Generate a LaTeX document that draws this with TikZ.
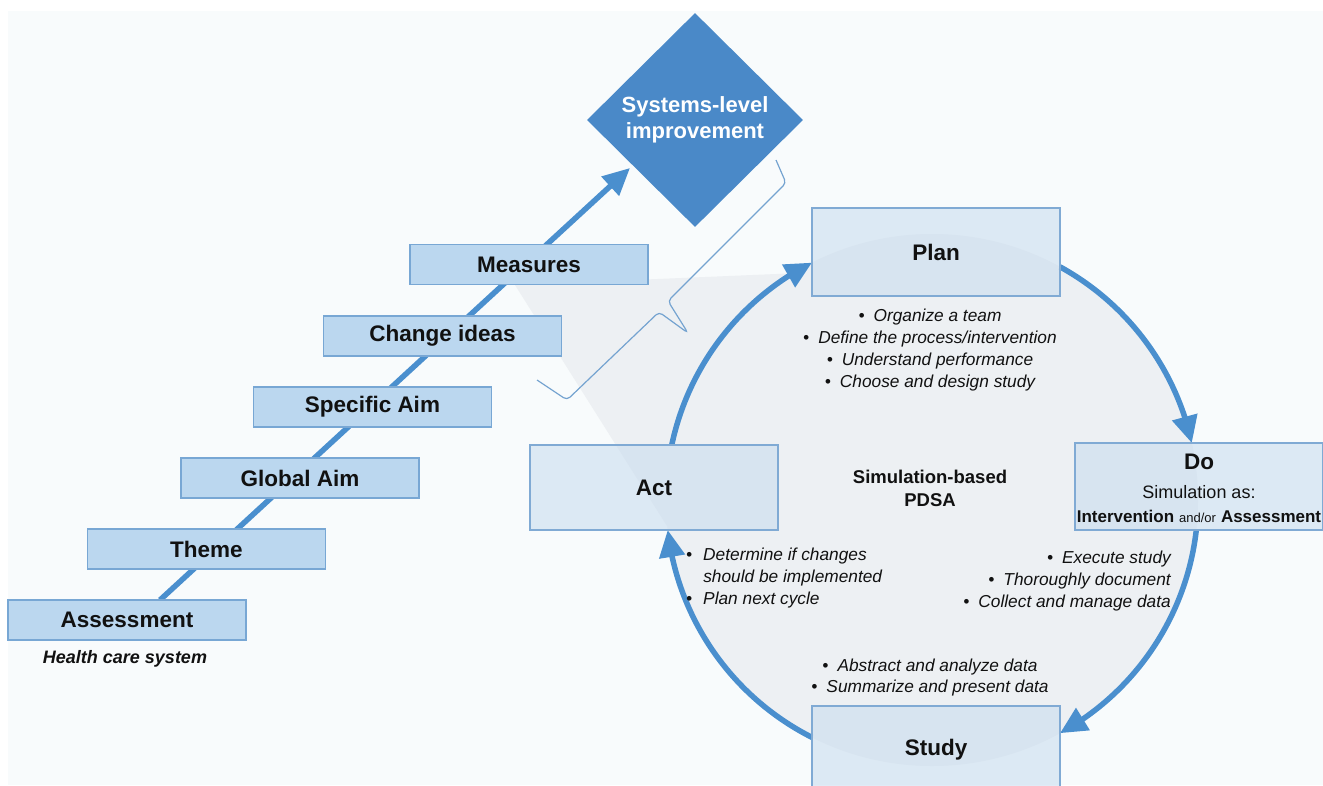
\documentclass[tikz,border=0pt]{standalone}
\usepackage{fontspec}
\setmainfont{Liberation Sans}
\usetikzlibrary{arrows.meta,bending,shapes.geometric}

\definecolor{panel}{HTML}{F8FBFC}
\definecolor{cyclefill}{HTML}{EDF0F3}
\definecolor{stepfill}{HTML}{BBD7EF}
\definecolor{stepline}{HTML}{78A7D4}
\definecolor{boxfill}{HTML}{C6DBEE}
\definecolor{boxline}{HTML}{80AAD4}
\definecolor{flowblue}{HTML}{4A8FCE}
\definecolor{diamondblue}{HTML}{4A89C8}
\definecolor{bracketblue}{HTML}{74A3D0}
\definecolor{ink}{HTML}{111111}

\tikzset{
  flow/.style={draw=flowblue, line width=5.5pt, -{Triangle[length=27pt,width=25pt,flex]}},
  stepbox/.style={draw=stepline, fill=stepfill, line width=1.1pt,
    minimum width=238pt, minimum height=40pt, inner sep=0pt, text=ink,
    font=\bfseries\fontsize{22.5}{26}\selectfont},
  pdsabox/.style={draw=boxline, fill=boxfill, fill opacity=0.55, text opacity=1,
    line width=1.1pt, minimum width=248pt, minimum height=87pt, inner sep=0pt,
    text=ink, font=\bfseries\fontsize{22.5}{26}\selectfont},
  notes/.style={text=ink, inner sep=0pt, font=\itshape\fontsize{17.3}{21.8}\selectfont},
  plain/.style={text=ink, inner sep=0pt},
}

\begin{document}
\begin{tikzpicture}[x=1pt,y=-1pt]
\useasboundingbox (0,0) rectangle (1323,785);
\clip (0,0) rectangle (1323,785);
\fill[white] (0,0) rectangle (1323,785);
\fill[panel] (8,11) rectangle (1323,785);

% PDSA cycle backdrop and the wedge leading into it
\coordinate (cyc) at (932,500);
\fill[cyclefill] (515,285) -- (800,273) -- (cyc) -- (667,526) -- cycle;
\fill[cyclefill] (cyc) circle[radius=266];

% rising line behind the steps
\coordinate (rise0) at (160,600);
\coordinate (rise1) at (630,168);
\draw[flow] (rise0) -- (rise1);

% steps
\node[stepbox] (assess)   at (127,620)   {Assessment};
\node[stepbox] (theme)    at (206.5,549) {Theme};
\node[stepbox] (global)   at (300,478)   {Global Aim};
\node[stepbox] (specific) at (372.5,407) {Specific Aim};
\node[stepbox] (change)   at (442.5,336) {Change ideas};
\node[stepbox] (measures) at (529,264.5) {Measures};
\node[plain, font=\bfseries\itshape\fontsize{18}{20}\selectfont] (hcs) at (125,659) {Health care system};

% goal
\node[diamond, fill=diamondblue, minimum width=216pt, minimum height=214pt, inner sep=0pt,
      text=white, align=center, font=\bfseries\fontsize{22}{26}\selectfont]
      (sys) at (695,120) {Systems-level\\improvement};

% brace from the goal down towards the cycle
\draw[bracketblue, line width=1.2pt, rounded corners=4pt]
  (776,160) -- (786,183) -- (668,301) -- (688,333) -- (659,312) -- (567,400) -- (537,380);

% points where the cycle meets the boxes
\path (cyc) ++(191.93:266) coordinate (actTop);
\path (cyc) ++(243.18:266) coordinate (planL);
\path (cyc) ++(298.76:266) coordinate (planR);
\path (cyc) ++(347.63:266) coordinate (doTop);
\path (cyc) ++(6.48:266)   coordinate (doBot);
\path (cyc) ++(61.24:266)  coordinate (studyR);
\path (cyc) ++(116.82:266) coordinate (studyL);
\path (cyc) ++(173.52:266) coordinate (actBot);

\draw[flow] (actTop) arc[start angle=191.93, end angle=243.18, radius=266];
\draw[flow] (planR)  arc[start angle=298.76, end angle=347.63, radius=266];
\draw[flow] (doBot)  arc[start angle=6.48,   end angle=61.24,  radius=266];
\draw[flow] (studyL) arc[start angle=116.82, end angle=173.52, radius=266];

% PDSA boxes
\node[pdsabox, minimum height=88pt] (plan)  at (936,252)   {Plan};
\node[pdsabox, minimum height=85pt] (act)   at (654,487.5) {Act};
\node[pdsabox] (do)    at (1199,486.5) {};
\node[pdsabox, minimum height=88pt] (study) at (936,750)   {Study};

\node[plain, font=\bfseries\fontsize{22.5}{26}\selectfont] (dotitle) at (1199,462) {Do};
\node[plain, align=center, font=\fontsize{18}{24}\selectfont] (dotext) at (1199,504)
  {Simulation as:\\\textbf{\fontsize{17}{24}\selectfont Intervention} {\fontsize{13}{24}\selectfont and/or} \textbf{\fontsize{17}{24}\selectfont Assessment}};

\node[plain, align=center, font=\bfseries\fontsize{18.5}{23}\selectfont] (pdsa) at (930,488.5)
  {Simulation-based\\PDSA};

% notes for each phase
\node[notes, align=center] (plannotes) at (930,350)
  {\textbullet\hspace{9pt}Organize a team\\
   \textbullet\hspace{9pt}Define the process/intervention\\
   \textbullet\hspace{9pt}Understand performance\\
   \textbullet\hspace{9pt}Choose and design study};
\node[notes, align=left, anchor=west] (actnotes) at (686,578)
  {\textbullet\hspace{11pt}Determine if changes\\
   \phantom{\textbullet}\hspace{11pt}should be implemented\\
   \textbullet\hspace{11pt}Plan next cycle};
\node[notes, align=right, anchor=east] (donotes) at (1171,581)
  {\textbullet\hspace{9pt}Execute study\\
   \textbullet\hspace{9pt}Thoroughly document\\
   \textbullet\hspace{9pt}Collect and manage data};
\node[notes, align=center] (studynotes) at (930,677.5)
  {\textbullet\hspace{9pt}Abstract and analyze data\\
   \textbullet\hspace{9pt}Summarize and present data};
\end{tikzpicture}
\end{document}
